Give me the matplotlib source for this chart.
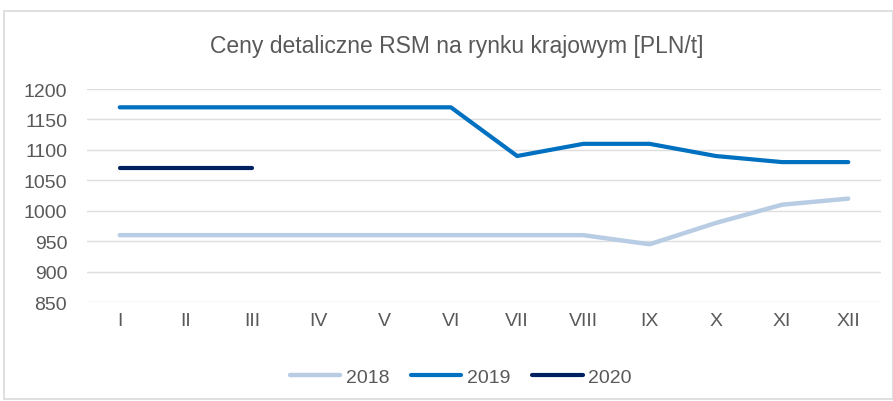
import matplotlib

matplotlib.use("Agg")
import matplotlib.pyplot as plt
from matplotlib.patches import Rectangle

months = ["I", "II", "III", "IV", "V", "VI", "VII", "VIII", "IX", "X", "XI", "XII"]
prices_2018 = [960, 960, 960, 960, 960, 960, 960, 960, 945, 980, 1010, 1020]
prices_2019 = [1170, 1170, 1170, 1170, 1170, 1170, 1090, 1110, 1110, 1090, 1080, 1080]
prices_2020 = [1070, 1070, 1070]
y_ticks = [850, 900, 950, 1000, 1050, 1100, 1150, 1200]

plt.rcParams["font.family"] = ["Liberation Sans", "DejaVu Sans"]
TEXT = "#595959"

fig = plt.figure(figsize=(8.93, 4.02), dpi=100)
ax = fig.add_axes([0.097, 0.246, 0.890, 0.530])

x = list(range(len(months)))
ax.plot(x, prices_2018, color="#b8cce4", lw=3.2, solid_capstyle="round", label="2018", zorder=3)
ax.plot(x, prices_2019, color="#0070c0", lw=3.0, solid_capstyle="round", label="2019", zorder=3)
ax.plot(x[:len(prices_2020)], prices_2020, color="#002060", lw=3.0, solid_capstyle="round", label="2020", zorder=3)

ax.set_xlim(-0.5, len(months) - 0.5)
ax.set_ylim(850, 1200)
ax.set_yticks(y_ticks)
ax.set_xticks(x)
ax.set_xticklabels(months)
ax.tick_params(length=0, colors=TEXT, labelsize=14, pad=7)
ax.tick_params(axis="y", pad=14)
ax.grid(axis="y", color="#dedede", lw=1)
ax.set_axisbelow(True)
for s in ax.spines.values():
    s.set_visible(False)

fig.text(0.512, 0.885, "Ceny detaliczne RSM na rynku krajowym [PLN/t]", ha="center", va="center",
         fontsize=16.5, color=TEXT)

fig.legend(loc="center", bbox_to_anchor=(0.516, 0.06), ncol=3, frameon=False, fontsize=14,
           handlelength=2.6, columnspacing=1.1, handletextpad=0.3, labelcolor=TEXT)

fig.patches.append(Rectangle((0.005, 0.005), 0.995, 0.965, transform=fig.transFigure,
                             fill=False, edgecolor="#d9d9d9", lw=1.2))

fig.savefig("out.png", dpi=100)
